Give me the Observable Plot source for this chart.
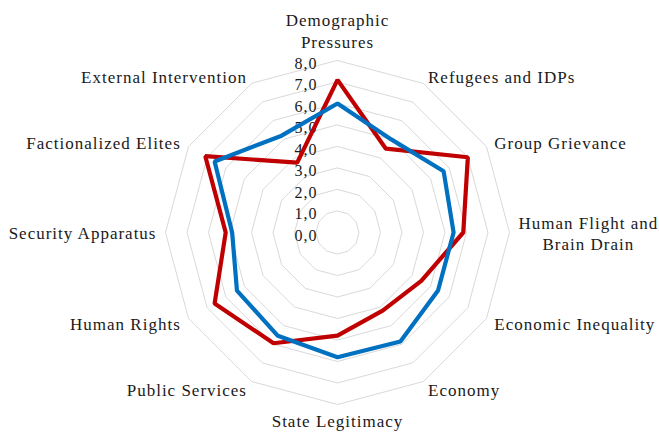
<!DOCTYPE html>
<html><head><meta charset="utf-8">
<script src="https://cdn.jsdelivr.net/npm/d3@7"></script>
<script src="https://cdn.jsdelivr.net/npm/@observablehq/plot@0.6"></script>
<style>
body{margin:0;background:#fff;}
g.cat text{letter-spacing:1px;}
g.tick text{letter-spacing:1px;}
</style>
</head><body><div id="chart"></div>
<script>
const categories = ["Demographic\nPressures", "Refugees and IDPs", "Group Grievance", "Human Flight and\nBrain Drain", "Economic Inequality", "Economy", "State Legitimacy", "Public Services", "Human Rights", "Security Apparatus", "Factionalized Elites", "External Intervention"];
const redValues  = [7.1, 4.5, 7.0, 5.85, 4.5, 4.2, 4.8, 5.95, 6.6, 5.2, 7.1, 3.75];
const blueValues = [6.0, 5.0, 5.7, 5.4, 5.4, 5.85, 5.8, 5.55, 5.4, 4.9, 6.6, 5.2];
const tickValues = [0, 1, 2, 3, 4, 5, 6, 7, 8];
const tickLabels = ["0,0", "1,0", "2,0", "3,0", "4,0", "5,0", "6,0", "7,0", "8,0"];

const W = 659, H = 434;
const cx = 337, cy = 232, unit = 21.5;
const FONT = "Liberation Serif";
const FS = 17, TFS = 16;
const LS = 1.0;
const n = categories.length;
const ang = i => i * 2 * Math.PI / n;
const px = (i, r) => r * Math.sin(ang(i));
const py = (i, r) => r * Math.cos(ang(i));

const grid = [];
for (const t of tickValues.slice(1)) for (let i = 0; i < n; i++) grid.push({ring: t, x: px(i, t), y: py(i, t)});
const series = [
  {name: "red", values: redValues, color: "#C00000"},
  {name: "blue", values: blueValues, color: "#0070C0"}
];
const pts = s => s.values.map((v, i) => ({x: px(i, v), y: py(i, v)}));

const ctx = document.createElement("canvas").getContext("2d");
ctx.font = `${FS}px "${FONT}"`;
const labelR = 181 / unit;
const labels = categories.map((c, i) => {
  const s = Math.sin(ang(i)), co = Math.cos(ang(i));
  const lines = c.split("\n");
  const w = Math.max(...lines.map(l => ctx.measureText(l).width + LS * l.length));
  let anchor = s > 0.1 ? "start" : s < -0.1 ? "end" : "middle";
  let dx = 0;
  if (lines.length > 1 && anchor !== "middle") { dx = anchor === "start" ? w / 2 : -w / 2; anchor = "middle"; }
  const lineAnchor = co > 0.9 ? "bottom" : co < -0.9 ? "top" : "middle";
  const dy = co > 0.9 ? -4 : co < -0.9 ? -2 : 0;
  return {text: c, x: px(i, labelR), y: py(i, labelR), anchor, dx, dy, lineAnchor};
});

const marks = [
  Plot.line(grid, {x: "x", y: "y", z: "ring", curve: "linear-closed", stroke: "#d9d9d9", strokeWidth: 1}),
  Plot.text(tickValues, {x: () => 0, y: d => d, text: (d, i) => tickLabels[i], textAnchor: "end", dx: -20, dy: 3, fill: "#1a1a1a", fontSize: TFS, className: "tick"}),
  ...series.map(s => Plot.line(pts(s), {x: "x", y: "y", curve: "linear-closed", stroke: s.color, strokeWidth: 4.2, strokeLinejoin: "miter"})),
  ...labels.map(l => Plot.text([l], {x: "x", y: "y", text: "text", textAnchor: l.anchor, lineAnchor: l.lineAnchor, dx: l.dx, dy: l.dy, lineHeight: 1.25, fill: "#1a1a1a", fontSize: FS, className: "cat"}))
];

const chart = Plot.plot({
  width: W, height: H,
  margin: 0,
  x: {domain: [-cx / unit, (W - cx) / unit], range: [0, W], axis: null},
  y: {domain: [-(H - cy) / unit, cy / unit], range: [H, 0], axis: null},
  style: {fontFamily: FONT, fontSize: FS + "px", background: "#fff", overflow: "visible"},
  marks
});
document.getElementById("chart").append(chart);
</script>
</body></html>
